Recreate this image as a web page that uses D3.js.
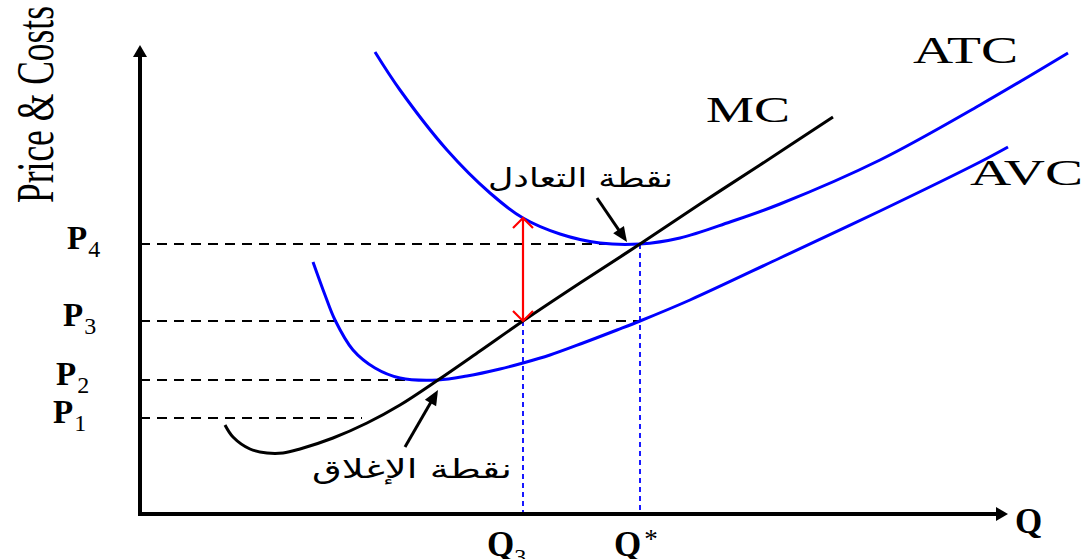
<!DOCTYPE html>
<html>
<head>
<meta charset="utf-8">
<script src="https://cdn.jsdelivr.net/npm/d3@7"></script>
<style>
  body { margin: 0; background: #fff; }
  svg { display: block; }
</style>
</head>
<body>
<div id="chart"></div>
<script>
// Cost curves: [quantity, cost]
const mcCurve = [[8.5,8.9],[9.3,7.7],[11,6.5],[12.7,6.1],[14.3,6.1],[16,6.5],[19.3,7.6],
                 [22.7,9.1],[26,10.9],[29.8,13.4],[34,16.3],[38.3,19.3],[44,23.1],[50,27],
                 [56,31],[62,34.9],[69.3,39.7]];
const avcCurve = [[17.3,25.2],[18.5,21.9],[19.5,19.4],[21.3,16.4],[23.5,14.6],[26,13.6],
                  [29.8,13.4],[32.7,13.8],[36,14.5],[38.3,15.1],[41,15.9],[44.3,17.1],
                  [47.7,18.4],[50,19.3],[55,21.4],[64,25.6],[74,30.3],[84,35.2],[86.8,36.7]];
const atcCurve = [[23.5,46.2],[26,42.4],[30.7,36.4],[35,32.1],[38.3,29.6],[42,28],
                  [46,27.1],[50,27],[54,27.6],[59,29.2],[64,31],[74,35.4],[84,40.9],
                  [92.8,46.1]];

// price levels, and the quantity where each dashed guide stops
const priceNames = ['1', '2', '3', '4'];
const priceValues = [9.6, 13.4, 19.3, 27];
const priceGuideEnd = [22.2, 29.8, 50, 50];

// quantity marks, and the cost where each dotted guide starts
const qtyValues = [38.3, 50];
const qtyGuideTop = [19.3, 27];

// gap between ATC and MC at Q3 (red arrow)
const gapQty = 38.3;
const gapTop = 29.6;
const gapBottom = 19.3;

const width = 1087, height = 559;

const x = d3.scaleLinear().domain([0, 87]).range([140, 1010]);
const y = d3.scaleLinear().domain([0, 47]).range([514, 44]);

const svg = d3.select('#chart').append('svg')
    .attr('width', width)
    .attr('height', height);

const serif = '"Liberation Serif", "Times New Roman", serif';
const arabic = '"DejaVu Sans", sans-serif';

// draws a filled arrow head at tip, pointing away from 'from'
function head(g, tip, from, len, wid, fill) {
    const a = Math.atan2(tip[1] - from[1], tip[0] - from[0]);
    const dx = Math.cos(a), dy = Math.sin(a);
    const bx = tip[0] - len * dx, by = tip[1] - len * dy;
    const pts = [tip, [bx - wid / 2 * dy, by + wid / 2 * dx], [bx + wid / 2 * dy, by - wid / 2 * dx]];
    g.append('path')
        .attr('d', 'M' + pts.join('L') + 'Z')
        .attr('fill', fill);
}

function arrowLine(g, from, tip, len, wid, sw, color) {
    const a = Math.atan2(tip[1] - from[1], tip[0] - from[0]);
    const end = [tip[0] - len * 0.7 * Math.cos(a), tip[1] - len * 0.7 * Math.sin(a)];
    g.append('line')
        .attr('x1', from[0]).attr('y1', from[1])
        .attr('x2', end[0]).attr('y2', end[1])
        .attr('stroke', color)
        .attr('stroke-width', sw);
    head(g, tip, from, len, wid, color);
}

// ---- guides ----
const guides = svg.append('g');

guides.selectAll('.p-guide')
    .data(priceValues)
    .join('line')
    .classed('p-guide', true)
    .attr('x1', x(0))
    .attr('x2', (d, i) => x(priceGuideEnd[i]))
    .attr('y1', d => y(d))
    .attr('y2', d => y(d))
    .attr('stroke', '#000')
    .attr('stroke-width', 1.8)
    .attr('stroke-dasharray', '10,7');

guides.selectAll('.q-guide')
    .data(qtyValues)
    .join('line')
    .classed('q-guide', true)
    .attr('x1', d => x(d))
    .attr('x2', d => x(d))
    .attr('y1', (d, i) => y(qtyGuideTop[i]))
    .attr('y2', y(0))
    .attr('stroke', '#0000ff')
    .attr('stroke-width', 1.8)
    .attr('stroke-dasharray', '5,4');

// ---- curves ----
const line = d3.line()
    .x(d => x(d[0]))
    .y(d => y(d[1]))
    .curve(d3.curveCatmullRom.alpha(0.5));

const curves = svg.append('g').attr('fill', 'none');

curves.append('path')
    .attr('d', line(atcCurve))
    .attr('stroke', '#0000ff')
    .attr('stroke-width', 3);

curves.append('path')
    .attr('d', line(avcCurve))
    .attr('stroke', '#0000ff')
    .attr('stroke-width', 3);

curves.append('path')
    .attr('d', line(mcCurve))
    .attr('stroke', '#000')
    .attr('stroke-width', 3);

// ---- red gap arrow ----
const red = svg.append('g')
    .attr('stroke', '#ff0000')
    .attr('stroke-width', 2.2)
    .attr('fill', 'none');

red.append('line')
    .attr('x1', x(gapQty)).attr('x2', x(gapQty))
    .attr('y1', y(gapTop)).attr('y2', y(gapBottom));

red.append('path')
    .attr('d', `M${x(gapQty) - 10},${y(gapTop) + 10}L${x(gapQty)},${y(gapTop)}L${x(gapQty) + 10},${y(gapTop) + 10}`);

red.append('path')
    .attr('d', `M${x(gapQty) - 10},${y(gapBottom) - 10}L${x(gapQty)},${y(gapBottom)}L${x(gapQty) + 10},${y(gapBottom) - 10}`);

// ---- axes ----
const axes = svg.append('g');

arrowLine(axes, [x(0), y(0) + 2], [x(0), y(46.9)], 12, 14, 4, '#000');
arrowLine(axes, [x(0) - 2, y(0)], [x(86.8), y(0)], 12, 14, 4, '#000');

// ---- annotation arrows ----
const notes = svg.append('g');
arrowLine(notes, [x(45.7), y(31.6)], [x(48.7), y(27.2)], 15, 13, 3, '#000');
arrowLine(notes, [x(26.5), y(6.7)], [x(29.8), y(12.4)], 15, 13, 3, '#000');

notes.append('text')
    .attr('x', x(34.8))
    .attr('y', y(32.7))
    .attr('font-family', arabic)
    .attr('font-size', 26)
    .attr('textLength', 185)
    .attr('lengthAdjust', 'spacingAndGlyphs')
    .text('نقطة التعادل');

notes.append('text')
    .attr('x', x(17.2))
    .attr('y', y(3.6))
    .attr('font-family', arabic)
    .attr('font-size', 26)
    .attr('textLength', 200)
    .attr('lengthAdjust', 'spacingAndGlyphs')
    .text('نقطة الإغلاق');

// ---- labels ----
const labels = svg.append('g').attr('font-family', serif).attr('fill', '#000');

// y axis title
labels.append('text')
    .attr('transform', 'translate(53,203) rotate(-90)')
    .attr('font-family', serif)
    .attr('font-size', 52)
    .attr('textLength', 197)
    .attr('lengthAdjust', 'spacingAndGlyphs')
    .text('Price & Costs');

// price labels (slightly ragged, as in the picture)
const priceLabelX = [53, 56, 63, 67];
const pl = labels.selectAll('.p-label')
    .data(priceValues)
    .join('text')
    .classed('p-label', true)
    .attr('x', (d, i) => priceLabelX[i])
    .attr('y', d => y(d) + 5);

pl.append('tspan')
    .attr('font-size', 33)
    .attr('font-weight', 'bold')
    .text('P');
pl.append('tspan')
    .attr('font-size', 24)
    .attr('dy', 8)
    .attr('dx', 1)
    .text((d, i) => priceNames[i]);

// quantity labels
const q3 = labels.append('text')
    .attr('x', x(qtyValues[0]) - 36)
    .attr('y', 556);
q3.append('tspan').attr('font-size', 35).attr('font-weight', 'bold').text('Q');
q3.append('tspan').attr('font-size', 24).attr('dy', 9).text('3');

const qs = labels.append('text')
    .attr('x', x(qtyValues[1]) - 26)
    .attr('y', 556);
qs.append('tspan').attr('font-size', 35).attr('font-weight', 'bold').text('Q');
qs.append('tspan').attr('font-size', 27).attr('dy', -8).attr('dx', 3).text('*');

labels.append('text')
    .attr('x', 1015)
    .attr('y', 533)
    .attr('font-size', 35)
    .attr('font-weight', 'bold')
    .text('Q');

// curve names
labels.append('text')
    .attr('x', 706).attr('y', 122)
    .attr('font-size', 36)
    .attr('textLength', 84)
    .attr('lengthAdjust', 'spacingAndGlyphs')
    .text('MC');

labels.append('text')
    .attr('x', 913).attr('y', 63)
    .attr('font-size', 37)
    .attr('textLength', 105)
    .attr('lengthAdjust', 'spacingAndGlyphs')
    .text('ATC');

labels.append('text')
    .attr('x', 970).attr('y', 185)
    .attr('font-size', 36)
    .attr('textLength', 113)
    .attr('lengthAdjust', 'spacingAndGlyphs')
    .text('AVC');
</script>
</body>
</html>
